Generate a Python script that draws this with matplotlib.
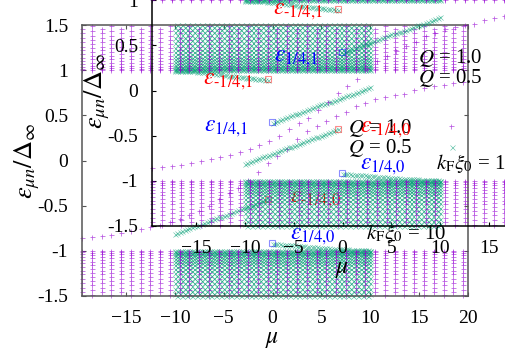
import numpy as np
import matplotlib
matplotlib.use("Agg")
import matplotlib.pyplot as plt

plt.rcParams['font.family'] = ['Liberation Serif', 'DejaVu Serif']
plt.rcParams['mathtext.fontset'] = 'stix'

x_ticks = [-15, -10, -5, 0, 5, 10, 15, 20]
y_ticks = [-1.5, -1, -0.5, 0, 0.5, 1, 1.5]
y_tick_labels = ['-1.5', '-1', '-0.5', '0', '0.5', '1', '1.5']

# Q = 1.0, one column per mu
purple_mu = [-19.5, -18.5, -17.5, -16.5, -15.5, -14.5, -13.5, -12.5, -11.5, -10.5,
             -9.5, -8.5, -7.5, -6.5, -5.5, -4.5, -3.5, -2.5, -1.5, -0.5,
             0.5, 1.5, 2.5, 3.5, 4.5, 5.5, 6.5, 7.5, 8.5, 9.5,
             10.5, 11.5, 12.5, 13.5, 14.5, 15.5, 16.5, 17.5, 18.5, 19.5]
purple_branch = [-0.86, -0.85, -0.835, -0.82, -0.80, -0.785, -0.76, -0.74, -0.715, -0.68,
                 -0.645, -0.60, -0.555, -0.50, -0.43, -0.365, -0.30, -0.215, -0.13, -0.03,
                 0.05, 0.13, 0.24, 0.33, 0.38, 0.44, 0.49, 0.54, 0.60, 0.64,
                 0.68, 0.70, 0.72, 0.74, 0.775, 0.80, 0.82, 0.84, 0.855, 0.865]
purple_upper_a = [1.0, 1.015, 1.04, 1.07, 1.10, 1.14, 1.18, 1.22, 1.26, 1.31, 1.36, 1.41, 1.46]
purple_upper_b = [1.005, 1.025, 1.05, 1.08, 1.12, 1.16, 1.20, 1.24, 1.29, 1.33, 1.38, 1.43, 1.49]
purple_lower_a = [-1.0, -1.015, -1.04, -1.07, -1.10, -1.14, -1.18, -1.22, -1.26, -1.31, -1.36, -1.41, -1.46]
purple_lower_b = [-1.005, -1.025, -1.05, -1.08, -1.12, -1.16, -1.20, -1.24, -1.29, -1.33, -1.38, -1.43, -1.49]

# Q = 0.5
green_mu = [-10, -9.75, -9.5, -9.25, -9, -8.75, -8.5, -8.25, -8, -7.75,
            -7.5, -7.25, -7, -6.75, -6.5, -6.25, -6, -5.75, -5.5, -5.25,
            -5, -4.75, -4.5, -4.25, -4, -3.75, -3.5, -3.25, -3, -2.75,
            -2.5, -2.25, -2, -1.75, -1.5, -1.25, -1, -0.75, -0.5, -0.25,
            0, 0.25, 0.5, 0.75, 1, 1.25, 1.5, 1.75, 2, 2.25,
            2.5, 2.75, 3, 3.25, 3.5, 3.75, 4, 4.25, 4.5, 4.75,
            5, 5.25, 5.5, 5.75, 6, 6.25, 6.5, 6.75, 7, 7.25,
            7.5, 7.75, 8, 8.25, 8.5, 8.75, 9, 9.25, 9.5, 9.75, 10]
green_upper_a = [1.0, 1.01, 1.03, 1.055, 1.085, 1.12, 1.16, 1.20, 1.25, 1.30, 1.36, 1.42, 1.48]
green_upper_b = [1.005, 1.02, 1.04, 1.07, 1.10, 1.14, 1.18, 1.225, 1.275, 1.33, 1.39, 1.45, 1.5]
green_lower_a = [-1.0, -1.01, -1.03, -1.055, -1.085, -1.12, -1.16, -1.20, -1.25, -1.30, -1.36, -1.42, -1.48]
green_lower_b = [-1.005, -1.02, -1.04, -1.07, -1.10, -1.14, -1.18, -1.225, -1.275, -1.33, -1.39, -1.45, -1.5]

# in-gap states, first two run mu -10..-0.5, last two 0..10
eps_m14_1 = [0.995, 0.995, 0.995, 0.995, 0.995, 0.99, 0.99, 0.99, 0.99, 0.985,
             0.985, 0.98, 0.98, 0.975, 0.975, 0.97, 0.965, 0.96, 0.96, 0.955,
             0.95, 0.945, 0.94, 0.935, 0.93, 0.93, 0.925, 0.92, 0.92, 0.915,
             0.915, 0.91, 0.91, 0.905, 0.905, 0.90, 0.90, 0.895, 0.895]
eps_m14_0 = [-0.81, -0.80, -0.79, -0.78, -0.77, -0.76, -0.75, -0.74, -0.73, -0.72,
             -0.71, -0.70, -0.69, -0.68, -0.67, -0.66, -0.65, -0.64, -0.63, -0.62,
             -0.61, -0.60, -0.59, -0.58, -0.57, -0.56, -0.55, -0.54, -0.53, -0.52,
             -0.51, -0.50, -0.49, -0.48, -0.47, -0.46, -0.45, -0.44, -0.43]
eps_p14_1 = [0.42, 0.43, 0.44, 0.45, 0.46, 0.47, 0.48, 0.49, 0.50, 0.51,
             0.52, 0.53, 0.54, 0.55, 0.56, 0.57, 0.58, 0.59, 0.60, 0.61,
             0.62, 0.63, 0.635, 0.645, 0.65, 0.66, 0.67, 0.68, 0.69, 0.70,
             0.71, 0.72, 0.73, 0.74, 0.75, 0.76, 0.77, 0.78, 0.79, 0.80, 0.81]
eps_p14_0 = [-0.92, -0.92, -0.925, -0.925, -0.93, -0.93, -0.935, -0.935, -0.94, -0.94,
             -0.945, -0.945, -0.95, -0.95, -0.955, -0.955, -0.955, -0.96, -0.96, -0.965,
             -0.965, -0.97, -0.97, -0.97, -0.975, -0.975, -0.98, -0.98, -0.98, -0.985,
             -0.985, -0.985, -0.99, -0.99, -0.99, -0.99, -0.995, -0.995, -0.995, -0.995, -1.0]

red_square_mu = [-0.47, -0.47]
red_square_eps = [0.902, -0.426]
blue_square_mu = [-0.06, -0.06]
blue_square_eps = [0.426, -0.913]

purple = '#9400D3'
green = '#009E73'


def grid(mus, levels):
    xx, yy = np.meshgrid(mus, levels)
    return xx.ravel(), yy.ravel()


def marks_p(ax, x, y):
    ax.plot(x, y, ls='none', marker='+', ms=3.6, mew=0.55, color=purple, alpha=0.65, clip_on=False, zorder=2)


def marks_x(ax, x, y):
    ax.plot(x, y, ls='none', marker='x', ms=3.6, mew=0.4, color=green, alpha=0.7, clip_on=False, zorder=2)


def panel(rect, frame):
    ax = fig.add_axes(rect)
    ax.patch.set_alpha(0)
    ax.set_xlim(-19.5, 20)
    ax.set_ylim(-1.5, 1.5)
    ax.set_xticks(x_ticks)
    ax.set_yticks(y_ticks)
    ax.set_yticklabels(y_tick_labels)
    ax.tick_params(direction='in', top=True, right=True, length=3, width=0.8,
                   color=frame, labelsize=14, pad=10)
    for s in ax.spines.values():
        s.set_color(frame)
        s.set_linewidth(1.1)

    for lev, cols in [(green_upper_a, green_mu[::2]), (green_upper_b, green_mu[1::2]),
                      (green_lower_a, green_mu[::2]), (green_lower_b, green_mu[1::2])]:
        x, y = grid(cols, lev)
        marks_x(ax, x, y)
    marks_x(ax, green_mu[:39], eps_m14_1)
    marks_x(ax, green_mu[:39], eps_m14_0)
    marks_x(ax, green_mu[40:], eps_p14_1)
    marks_x(ax, green_mu[40:], eps_p14_0)

    for lev, cols in [(purple_upper_a, purple_mu[::2]), (purple_upper_b, purple_mu[1::2]),
                      (purple_lower_a, purple_mu[::2]), (purple_lower_b, purple_mu[1::2])]:
        x, y = grid(cols, lev)
        marks_p(ax, x, y)
    marks_p(ax, purple_mu, purple_branch)

    ax.plot(red_square_mu, red_square_eps, ls='none', marker='s', ms=5, mfc='none', mew=0.8,
            color='#ff0000', alpha=0.45, clip_on=False)
    ax.plot(blue_square_mu, blue_square_eps, ls='none', marker='s', ms=5, mfc='none', mew=0.8,
            color='#0000ff', alpha=0.45, clip_on=False)

    # key samples
    marks_p(ax, [18.26], [0.382])
    marks_x(ax, [18.36], [0.15])

    ax.text(-7.12, 0.847, r'$\varepsilon_{\text{-1/4,1}}$', color='#ff0000', fontsize=17)
    ax.text(-7.02, 0.327, r'$\varepsilon_{\text{1/4,1}}$', color='#0000ff', fontsize=17)
    ax.text(1.78, -0.46, r'$\varepsilon_{\text{-1/4,0}}$', color='#ff0000', fontsize=17)
    ax.text(1.78, -0.87, r'$\varepsilon_{\text{1/4,0}}$', color='#0000ff', fontsize=17)
    ax.text(7.72, 0.304, r'$Q$ = 1.0', fontsize=15)
    ax.text(7.72, 0.083, r'$Q$ = 0.5', fontsize=15)
    ax.text(9.56, -0.87, r'$k_{\mathrm{F}}\xi_0$ = 10', fontsize=15)
    ax.text(0, -2.02, r'$\mu$', fontsize=17, ha='center')
    ax.text(-25.1, 0, r'$\varepsilon_{\mu n}/\Delta_\infty$', fontsize=19, rotation=90,
            ha='center', va='center')
    return ax


W, H = 506, 354
fig = plt.figure(figsize=(W / 100, H / 100), dpi=100)
panel([82 / W, 1 - 296 / H, 386 / W, 271 / H], '#555555')
panel([152 / W, 1 - 226 / H, 386 / W, 271 / H], '#000000')
fig.savefig('out.png', dpi=100)
